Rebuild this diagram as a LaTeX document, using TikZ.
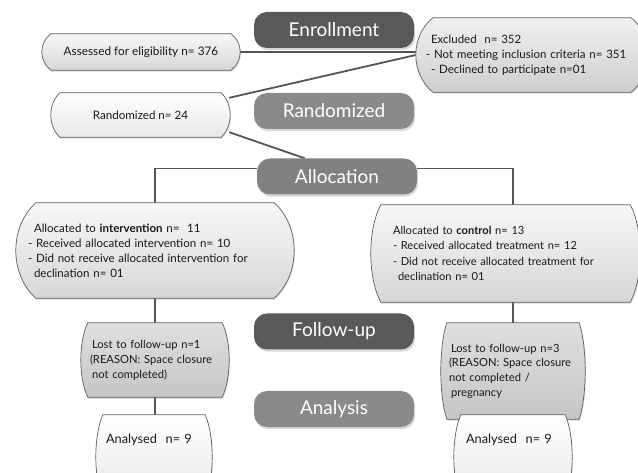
\documentclass[tikz,border=0pt]{standalone}
\usepackage{fontspec}
\setmainfont{Lato}
\usetikzlibrary{calc,shadows,backgrounds}
\definecolor{pdark}{HTML}{595959}
\definecolor{plight}{HTML}{8A8A8A}
\definecolor{pmid}{HTML}{818181}
\definecolor{edgec}{HTML}{5E5E5E}
\definecolor{wirec}{HTML}{555555}
\newcommand\cbox[3]{%
  \path[#3] let \p1=(#1.north east), \p2=(#1.south west), \n1={(\y1-\y2)/4} in
   (\x2+#2pt,\y1) -- (\x1-#2pt,\y1)
   .. controls (\x1+#2pt/3,\y1-\n1*1pt) and (\x1+#2pt/3,\y2+\n1*1pt) .. (\x1-#2pt,\y2)
   -- (\x2+#2pt,\y2)
   .. controls (\x2-#2pt/3,\y2+\n1*1pt) and (\x2-#2pt/3,\y1-\n1*1pt) .. (\x2+#2pt,\y1) -- cycle;}
\begin{document}
\begin{tikzpicture}[x=1pt,y=-1pt,
  pill/.style={rounded corners=13pt, minimum width=160pt, minimum height=36pt,
    text=white, font=\fontsize{19}{22}\selectfont, inner sep=0pt,
    drop shadow={shadow xshift=1.2pt, shadow yshift=-2.2pt, opacity=0.3}},
  box/.style={inner ysep=0pt, align=left, text=black!90},
  wire/.style={draw=wirec, line width=1.8pt},
  shp/.style={draw=edgec, line width=0.7pt,
    drop shadow={shadow xshift=0.8pt, shadow yshift=-1.6pt, opacity=0.22}},
  lightbox/.style={shp, top color=gray!6, bottom color=gray!32},
  midbox/.style={shp, top color=gray!12, bottom color=gray!38},
  darkbox/.style={shp, top color=gray!25, bottom color=gray!45},
  palebox/.style={shp, top color=white, bottom color=gray!18}
]
\useasboundingbox (0,0) rectangle (638,473);
\clip (0,0) rectangle (638,473);

% phase pills
\node[pill, fill=pdark] (enrol) at (334,30) {Enrollment};
\node[pill, fill=plight] (randp) at (334,111) {Randomized};
\node[pill, fill=pmid] (alloc) at (337,176.5) {Allocation};
\node[pill, fill=pdark] (follow) at (334,331.5) {Follow-up};
\node[pill, fill=plight] (anap) at (334,409) {Analysis};

% boxes
\node[box, align=center, minimum width=198pt, minimum height=36pt, font=\fontsize{11.8}{14}\selectfont]
  (assess) at (141,52) {Assessed for eligibility n= 376};
\node[box, minimum width=232pt, minimum height=74pt, inner xsep=10pt, text width=212pt, font=\fontsize{11.5}{15}\selectfont]
  (excl) at (532,55) {\hspace*{5pt}Excluded\ \ n= 352\\- Not meeting inclusion criteria n= 351\\\hspace*{5pt}- Declined to participate n=01};
\node[box, align=center, minimum width=179pt, minimum height=44pt, font=\fontsize{11.6}{14}\selectfont]
  (randb) at (140.5,115) {Randomized n= 24};
\node[box, minimum width=278pt, minimum height=95pt, inner xsep=12pt, text width=254pt, font=\fontsize{11.5}{15}\selectfont]
  (interv) at (155,250.5) {\hspace*{6pt}Allocated to \textbf{intervention} n=\ \ 11\\- Received allocated intervention n= 10\\- Did not receive allocated intervention for\\\hspace*{6pt}declination n= 01};
\node[box, minimum width=269pt, minimum height=97pt, inner xsep=22pt, text width=225pt, font=\fontsize{11.1}{15.5}\selectfont]
  (ctrl) at (505.5,253.5) {Allocated to \textbf{control} n= 13\\- Received allocated treatment n= 12\\- Did not receive allocated treatment for\\\hspace*{5pt}declination n= 01};
\node[box, minimum width=148pt, minimum height=74pt, inner xsep=8pt, text width=132pt, font=\fontsize{11.2}{15}\selectfont]
  (lostl) at (155,360) {\hspace*{3pt}Lost to follow-up n=1\\\hspace*{1pt}(REASON: Space closure\\\hspace*{3pt}not completed)};
\node[box, minimum width=144pt, minimum height=96pt, inner xsep=6pt, text width=132pt, font=\fontsize{11.2}{14.7}\selectfont]
  (lostr) at (513,371) {\hspace*{4pt}Lost to follow-up n=3\\\hspace*{2pt}(REASON: Space closure\\\hspace*{2pt}not completed /\\\hspace*{4pt}pregnancy};
\node[box, minimum width=116pt, inner xsep=10pt, text width=96pt, text height=28pt, text depth=56pt, font=\fontsize{12.8}{15}\selectfont]
  (anal) at (154,457) {Analysed\ \ n= 9};
\node[box, minimum width=118pt, inner xsep=12pt, text width=94pt, text height=28pt, text depth=56pt, font=\fontsize{12.8}{15}\selectfont]
  (anar) at (513,457) {Analysed\ \ n= 9};

\begin{pgfonlayer}{background}
  \clip (0,0) rectangle (638,473);
  \fill[white] (0,0) rectangle (638,473);
  % connectors
  \draw[wire] (assess.east) -- (assess.east -| excl.west);
  \draw[wire] ($(randb.north east)+(-1,5)$) -- (excl.west);
  \draw[wire] ($(randb.south east)+(-1,-5)$) -- ($(alloc.north west)+(48,0)$);
  \draw[wire] ($(alloc.west)+(0,-8)$) -| (interv.north);
  \draw[wire] ($(alloc.east)+(0,-8)$) -| (ctrl.north -| lostr.north);
  \draw[wire] (interv.south) -- (lostl.north);
  \draw[wire] (lostl.south) -- (lostl.south |- anal.north);
  \draw[wire] (ctrl.south -| lostr.north) -- (lostr.north);
  \draw[wire] (lostr.south) -- (anar.north);
  % box outlines
  \cbox{assess}{9}{lightbox}
  \cbox{excl}{17}{midbox}
  \cbox{randb}{9}{palebox}
  \cbox{interv}{20}{lightbox}
  \cbox{ctrl}{10}{lightbox}
  \cbox{lostl}{7}{darkbox}
  \cbox{lostr}{6}{darkbox}
  \cbox{anal}{7}{palebox}
  \cbox{anar}{7}{palebox}
\end{pgfonlayer}
\end{tikzpicture}
\end{document}
